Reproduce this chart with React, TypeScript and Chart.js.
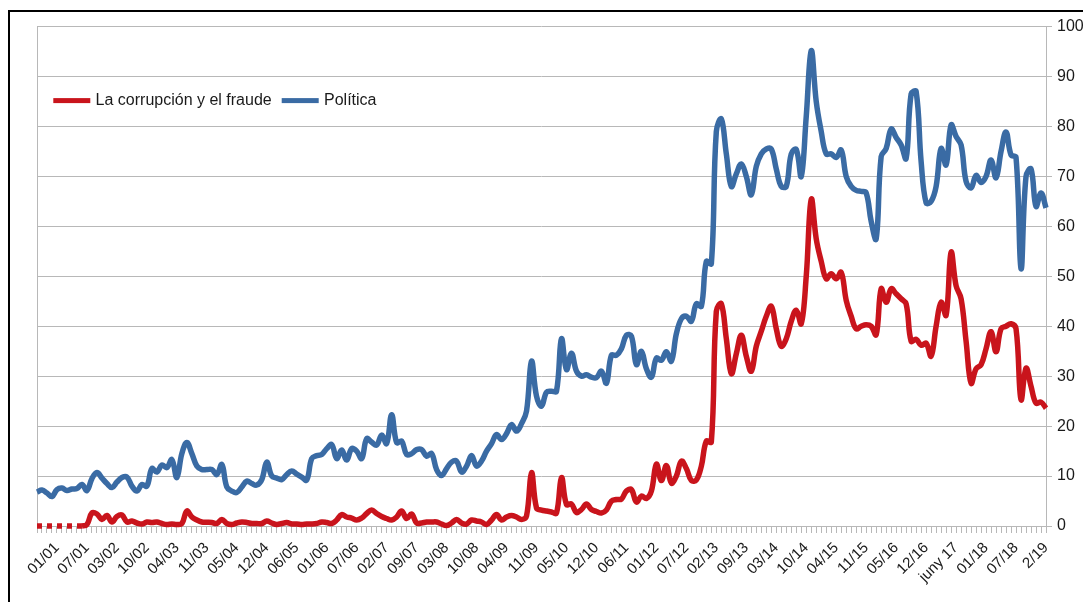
import React, { useEffect, useRef } from "react";
import { Chart, registerables } from "chart.js";

Chart.register(...registerables);

// Tick labels shown every 6th barometer, starting at the 5th point
const tickLabels = [
  "01/01", "07/01", "03/02", "10/02", "04/03", "11/03", "05/04", "12/04", "06/05",
  "01/06", "07/06", "02/07", "09/07", "03/08", "10/08", "04/09", "11/09", "05/10",
  "12/10", "06/11", "01/12", "07/12", "02/13", "09/13", "03/14", "10/14", "04/15",
  "11/15", "05/16", "12/16", "juny 17", "01/18", "07/18", "2/19",
];
const FIRST_LABEL_INDEX = 4;
const LABEL_STEP = 6;
const DASH_END_INDEX = 9;

const seriesNames = ["La corrupción y el fraude", "Política"];

const corrupcion = [
  0, 0, 0, 0, 0, 0, 0, 0, 0, 0,
  0.3, 2.6, 2.4, 1.3, 2.1, 0.8, 1.9, 2.2, 0.8, 1.0,
  0.6, 0.4, 0.8, 0.7, 0.8, 0.5, 0.3, 0.4, 0.3, 0.5,
  3.0, 1.8, 1.2, 0.8, 0.75,
  0.7, 0.5, 1.3, 0.5, 0.3, 0.6, 0.8, 0.7, 0.5, 0.5,
  0.5, 1.0, 0.6, 0.3, 0.5, 0.7, 0.4, 0.4, 0.3, 0.4,
  0.4, 0.5, 0.8, 0.7, 0.5, 1.2, 2.3, 1.8, 1.6, 1.2,
  1.6, 2.5, 3.2, 2.5, 1.9, 1.5, 1.2, 1.8, 3.0, 1.5,
  2.4, 0.6, 0.6, 0.8, 0.8, 0.8, 0.4, 0.1, 0.6, 1.3,
  0.6, 0.4, 1.2, 1.0, 0.8, 0.3, 1.2, 2.3, 1.2, 1.8,
  2.1, 1.8, 1.3, 2.0, 10.7, 3.6, 3.2, 3.0, 2.8,
  2.6, 9.7, 4.3, 4.4, 2.7, 3.3,
  4.4, 3.3, 2.9, 2.6, 3.2, 5.0, 5.3, 5.4, 7.0, 7.3,
  4.8, 6.0, 5.5, 7.0, 12.4, 9.1, 12.1, 8.6, 10.0, 13.0,
  11.5, 9.1, 9.2, 12.0, 17.0, 16.8, 43.0, 44.5, 37.5, 30.5,
  34.5, 38.2, 34.0, 31.0, 36.0, 39.0, 42.0, 44.0, 39.5, 36.0,
  37.5, 41.0, 43.2, 40.5, 50.0, 65.4, 57.5, 53.0, 49.5, 50.5,
  49.5, 50.8, 45.2, 42.0, 39.5, 40.0,
  40.3, 40.0, 38.3, 47.5,
  44.8, 47.5, 46.5, 45.5, 44.5, 37.0, 37.4, 36.2, 36.6, 34.0,
  40.0, 44.8, 42.2, 54.8, 48.1, 45.5, 37.0, 28.6, 31.5, 32.3,
  35.5, 38.9, 34.9, 39.5, 40.0, 40.5, 39.5, 25.3, 31.6, 28.0,
  24.6, 24.8, 23.6,
];

const politica = [
  6.8, 7.2, 6.6, 5.9, 7.3, 7.6, 7.1, 7.4, 7.5, 8.3,
  7.1, 9.5, 10.7, 9.6, 8.5, 7.7, 8.8, 9.7, 9.8, 8.0,
  7.0, 8.3, 8.0, 11.5, 10.8, 12.2, 11.7, 13.3, 9.7, 14.5,
  16.7, 14.5, 12.0, 11.3, 11.3,
  11.3, 10.3, 12.3, 7.8, 7.0, 6.7, 7.8, 9.0, 8.5, 8.2,
  9.3, 12.8, 10.0, 9.6, 9.3, 10.3, 11.0, 10.4, 9.8, 9.2,
  13.5, 14.1, 14.3, 15.5, 16.3, 13.5, 15.2, 13.2, 15.5, 15.0,
  13.5, 17.5, 16.8, 16.2, 18.2, 16.5, 22.3, 16.7, 17.0, 14.3,
  14.5, 15.3, 15.3, 14.0, 14.5, 11.3, 10.1, 11.5, 12.8, 13.0,
  10.8, 12.0, 14.1, 12.0, 13.0, 15.0, 16.5, 18.3, 17.3, 18.5,
  20.3, 19.0, 20.5, 23.0, 33.0, 26.0, 24.0, 26.8, 27.0,
  27.0, 37.5, 31.3, 34.6, 31.0, 30.0,
  30.3, 29.8, 29.7, 31.0, 28.6, 34.2, 34.2, 35.5, 38.2, 38.0,
  32.3, 35.0, 31.5, 29.8, 33.6, 33.2, 34.9, 33.0, 38.5, 41.5,
  42.0, 41.0, 44.5, 44.0, 53.0, 52.5, 79.0, 81.5, 74.5, 68.0,
  70.5, 72.5, 70.0, 66.3, 72.0, 74.5, 75.5, 75.5, 71.5, 68.0,
  68.0, 74.5, 75.4, 70.0, 82.0, 95.2, 85.0, 79.0, 74.5, 74.5,
  73.8, 75.3, 70.0, 68.0, 67.2, 67.0,
  66.7, 61.0, 57.5, 74.0,
  75.6, 79.5, 77.8, 76.3, 73.6, 86.5, 87.0, 73.0, 64.7, 65.0,
  68.0, 75.6, 72.3, 80.3, 78.0, 76.3, 69.0, 67.7, 70.2, 68.8,
  70.0, 73.3, 69.7, 75.0, 78.9, 74.3, 73.8, 51.5, 70.0, 71.5,
  64.0, 66.7, 63.7,
];

const categories = politica.map((_, i) =>
  i >= FIRST_LABEL_INDEX && (i - FIRST_LABEL_INDEX) % LABEL_STEP === 0
    ? tickLabels[(i - FIRST_LABEL_INDEX) / LABEL_STEP] ?? ""
    : ""
);

const RED = "#c9141c";
const BLUE = "#3a6ba4";
const GRID = "#b8b8b8";
const TEXT = "#1a1a1a";
const FONT = '"Liberation Sans", Arial, sans-serif';

const framePlugin = {
  id: "frameLeft",
  beforeDatasetsDraw(chart: any) {
    const { ctx, chartArea } = chart;
    ctx.save();
    ctx.strokeStyle = GRID;
    ctx.lineWidth = 1;
    ctx.beginPath();
    const x = Math.round(chartArea.left) + 0.5;
    ctx.moveTo(x, chartArea.top);
    ctx.lineTo(x, chartArea.bottom);
    ctx.stroke();
    ctx.restore();
  },
};

const insideLegend = {
  id: "insideLegend",
  afterDraw(chart: any) {
    const { ctx, chartArea } = chart;
    ctx.save();
    ctx.font = `16px ${FONT}`;
    ctx.textBaseline = "middle";
    let x = chartArea.left + 16.3;
    const y = chartArea.top + 74;
    chart.data.datasets.forEach((ds: any) => {
      ctx.fillStyle = ds.borderColor;
      ctx.fillRect(x, y - 2.5, 37, 5);
      x += 37 + 5.3;
      ctx.fillStyle = TEXT;
      ctx.fillText(ds.label, x, y);
      x += ctx.measureText(ds.label).width + 10;
    });
    ctx.restore();
  },
};

export default function App() {
  const ref = useRef<HTMLCanvasElement | null>(null);

  useEffect(() => {
    if (!ref.current) return;
    const chart = new Chart(ref.current, {
      type: "line",
      data: {
        labels: categories,
        datasets: [
          {
            label: seriesNames[0],
            data: corrupcion,
            borderColor: RED,
            backgroundColor: RED,
            borderWidth: 5.5,
            pointRadius: 0,
            tension: 0.4,
            clip: 8,
            segment: {
              borderDash: (c: any) => (c.p1DataIndex <= DASH_END_INDEX ? [5, 5] : undefined),
            },
          },
          {
            label: seriesNames[1],
            data: politica,
            borderColor: BLUE,
            backgroundColor: BLUE,
            borderWidth: 5.5,
            pointRadius: 0,
            tension: 0.4,
            clip: 8,
          },
        ],
      },
      options: {
        responsive: false,
        animation: false,
        layout: { padding: { left: 27, top: 12, right: 0, bottom: 0 } },
        plugins: {
          legend: { display: false },
          tooltip: { enabled: false },
        },
        scales: {
          x: {
            type: "category",
            grid: {
              display: true,
              drawOnChartArea: false,
              drawTicks: true,
              tickLength: 7,
              tickColor: GRID,
              color: GRID,
            },
            border: { display: true, color: GRID },
            ticks: {
              autoSkip: false,
              minRotation: 45,
              maxRotation: 45,
              padding: 6,
              color: TEXT,
              font: { family: FONT, size: 15 },
            },
            afterFit: (s: any) => {
              s.height = 78;
            },
          },
          y: {
            position: "right",
            min: 0,
            max: 100,
            ticks: {
              stepSize: 10,
              padding: 5,
              color: TEXT,
              font: { family: FONT, size: 16 },
            },
            grid: { color: GRID, tickLength: 6, drawTicks: true, tickColor: GRID },
            border: { display: true, color: GRID },
            afterFit: (s: any) => {
              s.width = 45;
            },
          },
        },
      },
      plugins: [framePlugin, insideLegend],
    });
    return () => chart.destroy();
  }, []);

  return (
    <div
      style={{
        position: "relative",
        top: 2,
        width: 1081,
        height: 592,
        borderTop: "2px solid #000",
        borderLeft: "2px solid #000",
        background: "#fff",
      }}
    >
      <canvas ref={ref} width={1081} height={592} style={{ display: "block", width: 1081, height: 592 }} />
    </div>
  );
}
